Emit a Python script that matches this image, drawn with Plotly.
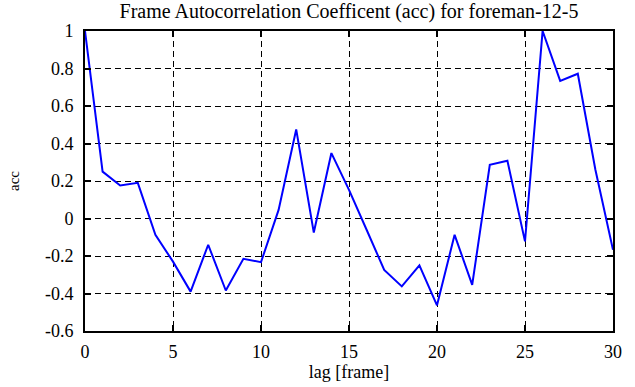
import plotly.graph_objects as go

lags = list(range(31))
acc = [1.0, 0.25, 0.176, 0.19, -0.087, -0.23, -0.39, -0.14, -0.384, -0.215,
       -0.233, 0.046, 0.475, -0.075, 0.349, 0.153, -0.06, -0.274, -0.362, -0.25,
       -0.463, -0.087, -0.354, 0.286, 0.308, -0.122, 1.0, 0.734, 0.772, 0.26,
       -0.167]

title_text = "Frame Autocorrelation Coefficent (acc) for foreman-12-5"
x_label = "lag [frame]"
y_label = "acc"
x_ticks = [0, 5, 10, 15, 20, 25, 30]
y_ticks = [-0.6, -0.4, -0.2, 0, 0.2, 0.4, 0.6, 0.8, 1]

font = "Liberation Serif"

fig = go.Figure()
fig.add_trace(go.Scatter(x=lags, y=acc, mode="lines",
                         line=dict(color="#0000ff", width=2)))

axis_common = dict(
    showline=True, linecolor="black", linewidth=2, mirror="ticks",
    ticks="inside", ticklen=6, tickcolor="black", tickwidth=1.5,
    showgrid=True, gridcolor="black", griddash="6px,4px", gridwidth=1,
    zeroline=False, tickfont=dict(family=font, size=18, color="black"),
    automargin=False,
)

fig.update_layout(
    width=635, height=387,
    margin=dict(l=85, r=22, t=31, b=56),
    paper_bgcolor="white", plot_bgcolor="white",
    showlegend=False,
    title=dict(text=title_text, xref="paper", x=0.5, xanchor="center",
               y=1 - 4 / 387, yanchor="top",
               font=dict(family=font, size=20, color="black")),
)
fig.update_xaxes(range=[0, 30], tickvals=x_ticks, ticktext=[str(v) for v in x_ticks],
                 ticklabelstandoff=3,
                 title=dict(text=x_label, standoff=5,
                            font=dict(family=font, size=18, color="black")),
                 **axis_common)
fig.update_yaxes(range=[-0.6, 1], tickvals=y_ticks,
                 ticktext=[f"{v:g}" for v in y_ticks], ticklabelstandoff=6,
                 title=dict(text=y_label, standoff=22,
                            font=dict(family=font, size=15, color="black")),
                 **axis_common)

fig.write_html("out.html", config={"displayModeBar": False},
               post_script="document.body.style.margin='0px';")
